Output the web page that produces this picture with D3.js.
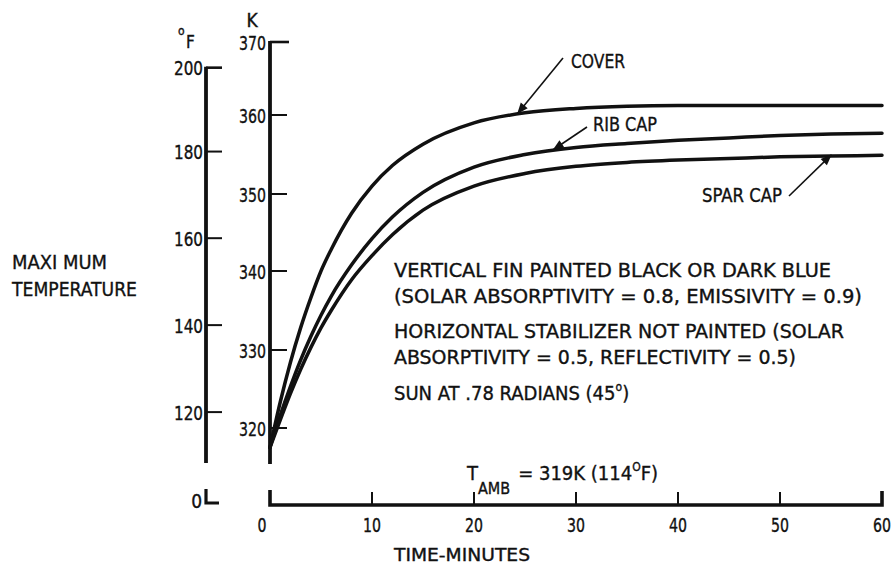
<!DOCTYPE html>
<html>
<head>
<meta charset="utf-8">
<script src="https://cdn.jsdelivr.net/npm/d3@7"></script>
<style>
  html, body { margin: 0; padding: 0; background: #fff; }
  svg { display: block; }
  text { font-family: "DejaVu Sans Condensed", "Liberation Sans Narrow", "DejaVu Sans", sans-serif; font-stretch: condensed; fill: #111; stroke: #111; stroke-width: 0.35; }
</style>
</head>
<body>
<svg id="chart" width="896" height="566"></svg>
<script>
// Time after exposure, minutes
const times = [0, 1, 2, 3, 4, 5, 6, 8, 10, 12, 15, 20, 25, 30, 35, 40, 45, 50, 55, 60];
// Maximum temperature, kelvin
const coverK   = [317.5, 323.3, 328.4, 332.8, 336.6, 340.0, 342.8, 347.5, 351.0, 353.6, 356.3, 359.0, 360.3, 360.9, 361.2, 361.3, 361.3, 361.3, 361.3, 361.3];
const ribCapK  = [317.5, 321.6, 325.3, 328.7, 331.7, 334.4, 336.8, 340.8, 344.2, 347.0, 350.2, 353.4, 355.0, 355.9, 356.4, 356.8, 357.1, 357.4, 357.6, 357.7];
const sparCapK = [317.5, 321.0, 324.4, 327.5, 330.3, 332.8, 335.0, 338.9, 342.0, 344.7, 347.9, 351.0, 352.6, 353.5, 354.0, 354.3, 354.5, 354.7, 354.8, 354.9];

const kelvinTicks = [320, 330, 340, 350, 360, 370];
const fahrenheitTicks = [120, 140, 160, 180, 200];
const timeTicks = [0, 10, 20, 30, 40, 50, 60];

const seriesNames = ["COVER", "RIB CAP", "SPAR CAP"];
const noteLines = [
  "VERTICAL FIN PAINTED BLACK OR DARK BLUE",
  "(SOLAR ABSORPTIVITY = 0.8, EMISSIVITY = 0.9)",
  "HORIZONTAL STABILIZER NOT PAINTED (SOLAR",
  "ABSORPTIVITY = 0.5, REFLECTIVITY = 0.5)"
];

const svg = d3.select("#chart");

// Kelvin scale (hand-ruled grid, slightly uneven spacing)
const y = d3.scaleLinear()
  .domain(kelvinTicks)
  .range([428, 350, 271, 194, 115, 42]);
const x = d3.scaleLinear().domain([0, 60]).range([270, 882]);
const fToK = f => (f - 32) * 5 / 9 + 273.15;

const xK = 270, xF = 206, xAxisY = 505;

// ---- Kelvin axis
svg.append("line").attr("x1", xK).attr("x2", xK).attr("y1", y(370) - 1).attr("y2", 464)
  .attr("stroke", "#111").attr("stroke-width", 3.8);
const kG = svg.append("g");
kG.selectAll("line").data(kelvinTicks).join("line")
  .attr("x1", xK).attr("x2", d => d === 370 ? xK + 19 : xK + 17)
  .attr("y1", d => y(d)).attr("y2", d => y(d))
  .attr("stroke", "#111").attr("stroke-width", d => d === 370 ? 2.6 : 2);
kG.selectAll("text").data(kelvinTicks).join("text")
  .attr("x", xK - 4).attr("y", d => y(d) + 7.5)
  .attr("text-anchor", "end").attr("font-size", 20)
  .attr("textLength", 27).attr("lengthAdjust", "spacingAndGlyphs")
  .text(d => d);
svg.append("text").attr("x", 252).attr("y", 27).attr("text-anchor", "middle")
  .attr("font-size", 19).text("K");

// ---- Fahrenheit axis
svg.append("line").attr("x1", xF).attr("x2", xF).attr("y1", y(fToK(200)) - 1).attr("y2", 463)
  .attr("stroke", "#111").attr("stroke-width", 3.8);
const fG = svg.append("g");
fG.selectAll("line").data(fahrenheitTicks).join("line")
  .attr("x1", xF).attr("x2", xF + 16)
  .attr("y1", d => y(fToK(d))).attr("y2", d => y(fToK(d)))
  .attr("stroke", "#111").attr("stroke-width", d => d === 200 ? 2.6 : 2);
fG.selectAll("text").data(fahrenheitTicks).join("text")
  .attr("x", xF - 3).attr("y", d => y(fToK(d)) + 7.5)
  .attr("text-anchor", "end").attr("font-size", 20)
  .attr("textLength", 29).attr("lengthAdjust", "spacingAndGlyphs")
  .text(d => d);
svg.append("text").attr("x", 178).attr("y", 35).attr("font-size", 12).text("o");
svg.append("text").attr("x", 186).attr("y", 48).attr("font-size", 17).text("F");

// ---- broken-axis stub at zero
svg.append("path").attr("d", `M${xF},489 V503 H${xF + 13}`)
  .attr("fill", "none").attr("stroke", "#111").attr("stroke-width", 3.2);
svg.append("text").attr("x", xF - 4).attr("y", 508).attr("text-anchor", "end")
  .attr("font-size", 19).text("0");

// ---- time axis
svg.append("path").attr("d", `M${xK},490 V${xAxisY} H${x(60)} V${xAxisY - 14}`)
  .attr("fill", "none").attr("stroke", "#111").attr("stroke-width", 3.6);
const tG = svg.append("g");
tG.selectAll("line").data(timeTicks.slice(1, -1)).join("line")
  .attr("x1", d => x(d)).attr("x2", d => x(d))
  .attr("y1", xAxisY).attr("y2", xAxisY - 13)
  .attr("stroke", "#111").attr("stroke-width", 2);
tG.selectAll("text").data(timeTicks).join("text")
  .attr("x", d => d === 0 ? x(d) - 8 : x(d)).attr("y", 532)
  .attr("text-anchor", "middle").attr("font-size", 19)
  .attr("textLength", d => d === 0 ? 9 : 18).attr("lengthAdjust", "spacingAndGlyphs")
  .text(d => d);
svg.append("text").attr("x", 462).attr("y", 561).attr("text-anchor", "middle")
  .attr("font-size", 18).attr("textLength", 136).attr("lengthAdjust", "spacingAndGlyphs")
  .text("TIME-MINUTES");

// ---- y title
svg.append("text").attr("x", 12).attr("y", 269).attr("font-size", 20)
  .attr("textLength", 95).attr("lengthAdjust", "spacingAndGlyphs").text("MAXI MUM");
svg.append("text").attr("x", 12).attr("y", 296).attr("font-size", 20)
  .attr("textLength", 125).attr("lengthAdjust", "spacingAndGlyphs").text("TEMPERATURE");

// ---- curves
const line = d3.line().x(d => x(d[0])).y(d => y(d[1])).curve(d3.curveMonotoneX);
const series = [coverK, ribCapK, sparCapK];
svg.append("g").selectAll("path").data(series).join("path")
  .attr("d", s => line(times.map((t, i) => [t, s[i]])))
  .attr("fill", "none").attr("stroke", "#111").attr("stroke-width", 3.5)
  .attr("stroke-linecap", "round");

// ---- leader lines with arrowheads
svg.append("defs").append("marker")
  .attr("id", "arrow").attr("viewBox", "0 0 10 10").attr("refX", 9).attr("refY", 5)
  .attr("markerWidth", 9).attr("markerHeight", 7).attr("orient", "auto")
  .append("path").attr("d", "M0,1 L10,5 L0,9 Z").attr("fill", "#111");

const interp = (s, t) => d3.scaleLinear().domain(times).range(s)(t);
const leaders = [
  { name: seriesNames[0], s: coverK, t: 24.3, from: [563, 58], tx: 571, ty: 68, w: 54 },
  { name: seriesNames[1], s: ribCapK, t: 27.8, from: [587, 127], tx: 593, ty: 131, w: 64 },
  { name: seriesNames[2], s: sparCapK, t: 55.0, from: [789, 196], tx: 702, ty: 202, w: 80 }
];
leaders.forEach(l => {
  svg.append("line")
    .attr("x1", l.from[0]).attr("y1", l.from[1])
    .attr("x2", x(l.t)).attr("y2", y(interp(l.s, l.t)) - 1)
    .attr("stroke", "#111").attr("stroke-width", 1.6)
    .attr("marker-end", "url(#arrow)");
  svg.append("text").attr("x", l.tx).attr("y", l.ty).attr("font-size", 20)
    .attr("textLength", l.w).attr("lengthAdjust", "spacingAndGlyphs").text(l.name);
});

// ---- notes
const noteY = [277, 303, 338, 364];
const noteW = [437, 468, 450, 402];
svg.append("g").selectAll("text").data(noteLines).join("text")
  .attr("x", 394).attr("y", (d, i) => noteY[i]).attr("font-size", 20)
  .attr("textLength", (d, i) => noteW[i]).attr("lengthAdjust", "spacingAndGlyphs")
  .text(d => d);

const sun = svg.append("text").attr("x", 394).attr("y", 400).attr("font-size", 20);
sun.append("tspan").text("SUN AT .78 RADIANS (45");
sun.append("tspan").attr("font-size", 12).attr("dy", -9).text("o");
sun.append("tspan").attr("dy", 9).text(")");

// ---- ambient temperature
const amb = svg.append("text").attr("x", 467).attr("y", 480).attr("font-size", 20);
amb.append("tspan").text("T");
amb.append("tspan").attr("font-size", 16).attr("dy", 14).text("AMB");
amb.append("tspan").attr("dy", -14).attr("dx", 8).text("= 319K (114");
amb.append("tspan").attr("font-size", 12).attr("dy", -9).text("O");
amb.append("tspan").attr("dy", 9).text("F)");
</script>
</body>
</html>
